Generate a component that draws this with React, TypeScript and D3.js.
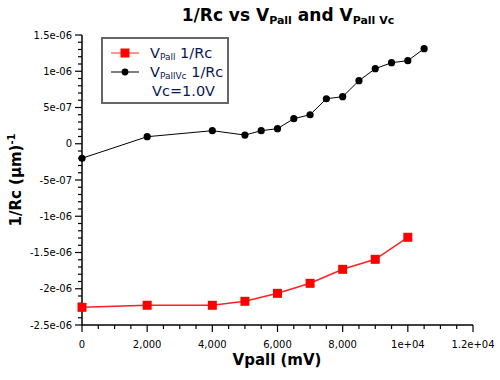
import React from "react";
import * as d3 from "d3";

const vpallX = [0, 2000, 4000, 5000, 6000, 7000, 8000, 9000, 10000];
const vpallY = [-2.256e-6, -2.228e-6, -2.228e-6, -2.173e-6, -2.063e-6, -1.925e-6, -1.732e-6, -1.594e-6, -1.29e-6];

const vcX = [0, 2000, 4000, 5000, 5500, 6000, 6500, 7000, 7500, 8000, 8500, 9000, 9500, 10000, 10500];
const vcY = [-2.0e-7, 9.7e-8, 1.8e-7, 1.2e-7, 1.8e-7, 2.08e-7, 3.46e-7, 4.0e-7, 6.21e-7, 6.49e-7, 8.7e-7, 1.035e-6, 1.118e-6, 1.146e-6, 1.311e-6];

const xTicks = [0, 2000, 4000, 6000, 8000, 10000, 12000];
const xTickLabels = ["0", "2,000", "4,000", "6,000", "8,000", "1e+04", "1.2e+04"];
const yTicks = [1.5e-6, 1e-6, 5e-7, 0, -5e-7, -1e-6, -1.5e-6, -2e-6, -2.5e-6];
const yTickLabels = ["1.5e-06", "1e-06", "5e-07", "0", "-5e-07", "-1e-06", "-1.5e-06", "-2e-06", "-2.5e-06"];

const FONT = "'DejaVu Sans', Verdana, sans-serif";

export default function App() {
  const W = 500, H = 380;
  const left = 82, right = 473, top = 35, bottom = 325;
  const x = d3.scaleLinear().domain([0, 12000]).range([left, right]);
  const y = d3.scaleLinear().domain([-2.5e-6, 1.5e-6]).range([bottom, top]);
  const line = d3.line<[number, number]>().x(d => x(d[0])).y(d => y(d[1]));
  const redPts: [number, number][] = vpallX.map((v, i) => [v, vpallY[i]]);
  const blkPts: [number, number][] = vcX.map((v, i) => [v, vcY[i]]);
  const xMinor = d3.range(0, 12001, 500).filter(v => !xTicks.includes(v));
  const yMinor = d3.range(-25, 16, 1).map(v => v * 1e-7).filter((v, i) => (i % 5) !== 0);

  return (
    <svg width={W} height={H} style={{ position: "absolute", left: 0, top: 0, background: "#fff" }}>
      <rect x={0} y={0} width={W} height={H} fill="#fff" />
      {/* title */}
      <text x={288} y={21} textAnchor="middle" fontFamily={FONT} fontWeight="bold" fontSize={17} fill="#000">
        1/Rc vs V<tspan fontSize={11} dy={3}>Pall</tspan><tspan dy={-3}> and V</tspan><tspan fontSize={11} dy={3}>Pall Vc</tspan>
      </text>
      {/* axes */}
      <line x1={left} x2={left} y1={top} y2={bottom} stroke="#000" strokeWidth={1.5} />
      <line x1={left} x2={right} y1={bottom} y2={bottom} stroke="#000" strokeWidth={1.5} />
      {yTicks.map((t, i) => (
        <g key={"yt" + i}>
          <line x1={left - 7} x2={left} y1={y(t)} y2={y(t)} stroke="#000" strokeWidth={1.2} />
          <text x={left - 10} y={y(t) + 3.5} textAnchor="end" fontFamily={FONT} fontSize={10} fill="#000">{yTickLabels[i]}</text>
        </g>
      ))}
      {yMinor.map((t, i) => (
        <line key={"ym" + i} x1={left - 4} x2={left} y1={y(t)} y2={y(t)} stroke="#000" strokeWidth={1.2} />
      ))}
      {xTicks.map((t, i) => (
        <g key={"xt" + i}>
          <line x1={x(t)} x2={x(t)} y1={bottom} y2={bottom + 7} stroke="#000" strokeWidth={1.2} />
          <text x={x(t)} y={bottom + 23} textAnchor="middle" fontFamily={FONT} fontSize={10} fill="#000">{xTickLabels[i]}</text>
        </g>
      ))}
      {xMinor.map((t, i) => (
        <line key={"xm" + i} x1={x(t)} x2={x(t)} y1={bottom} y2={bottom + 4} stroke="#000" strokeWidth={1.2} />
      ))}
      {/* axis titles */}
      <text x={277} y={365} textAnchor="middle" fontFamily={FONT} fontWeight="bold" fontSize={15} fill="#000">Vpall (mV)</text>
      <text transform={`translate(21,${(top + bottom) / 2}) rotate(-90)`} textAnchor="middle" fontFamily={FONT} fontWeight="bold" fontSize={15} fill="#000">
        1/Rc (µm)<tspan fontSize={10} dy={-6}>-1</tspan>
      </text>
      {/* series */}
      <path d={line(redPts) || ""} fill="none" stroke="#ff2020" strokeWidth={1.5} />
      {redPts.map((p, i) => (
        <rect key={"r" + i} x={x(p[0]) - 4.5} y={y(p[1]) - 4.5} width={9} height={9} fill="#ff0000" />
      ))}
      <path d={line(blkPts) || ""} fill="none" stroke="#000" strokeWidth={1} />
      {blkPts.map((p, i) => (
        <circle key={"b" + i} cx={x(p[0])} cy={y(p[1])} r={3.6} fill="#000" />
      ))}
      {/* legend */}
      <rect x={102} y={38} width={126} height={65} fill="#fff" stroke="#666" strokeWidth={2} />
      <line x1={111} x2={139} y1={53} y2={53} stroke="#ff7070" strokeWidth={1.5} />
      <rect x={120.5} y={48.5} width={9} height={9} fill="#ff0000" />
      <line x1={111} x2={139} y1={72} y2={72} stroke="#555" strokeWidth={1.5} />
      <circle cx={125} cy={72} r={3.4} fill="#000" />
      <text x={150} y={58} fontFamily={FONT} fontSize={14.5} fill="#0a1850">
        V<tspan fontSize={9} dy={2}>Pall</tspan><tspan dy={-2}> 1/Rc</tspan>
      </text>
      <text x={150} y={77} fontFamily={FONT} fontSize={14.5} fill="#0a1850">
        V<tspan fontSize={9} dy={2}>PallVc</tspan><tspan dy={-2}> 1/Rc</tspan>
      </text>
      <text x={152} y={96} fontFamily={FONT} fontSize={14.5} fill="#0a1850">Vc=1.0V</text>
    </svg>
  );
}
